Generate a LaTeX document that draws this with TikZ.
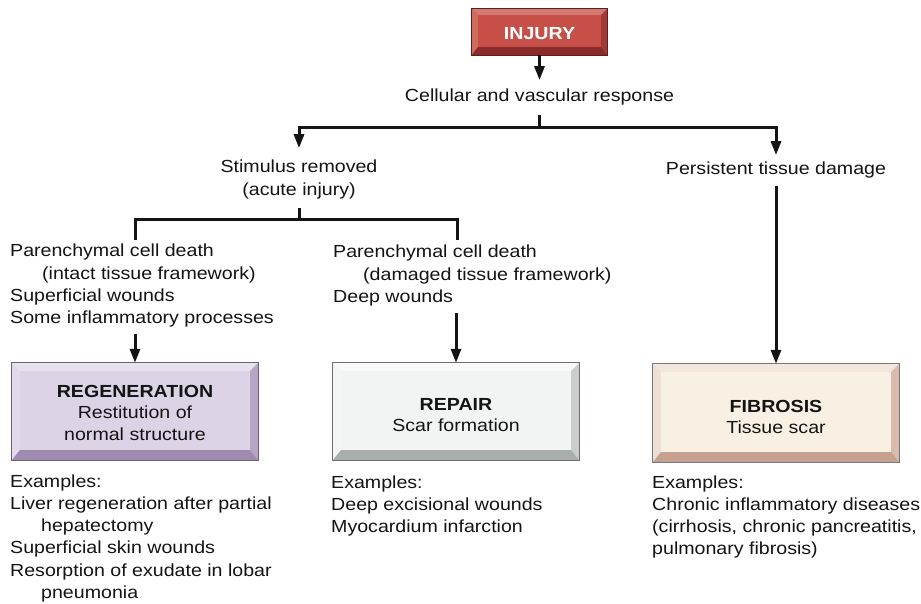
\documentclass[tikz,border=0pt]{standalone}
\usepackage{fontspec}
\setmainfont[FakeStretch=1.12]{Liberation Sans}
\usetikzlibrary{arrows.meta,calc}
\definecolor{ink}{HTML}{141414}
% injury
\definecolor{injF}{HTML}{C65048}
\definecolor{injT}{HTML}{D57A70}
\definecolor{injL}{HTML}{CF6A60}
\definecolor{injR}{HTML}{A23A38}
\definecolor{injB}{HTML}{8A2B2A}
\definecolor{injE}{HTML}{5A2020}
% regeneration
\definecolor{regF}{HTML}{DCD3E6}
\definecolor{regT}{HTML}{E8E2EE}
\definecolor{regL}{HTML}{E2DAEA}
\definecolor{regR}{HTML}{B6A5C4}
\definecolor{regB}{HTML}{9F8BAF}
\definecolor{regE}{HTML}{6B6470}
% repair
\definecolor{repF}{HTML}{F2F3F3}
\definecolor{repT}{HTML}{F8F9F9}
\definecolor{repL}{HTML}{F4F5F5}
\definecolor{repR}{HTML}{C9CDCC}
\definecolor{repB}{HTML}{A9AEAC}
\definecolor{repE}{HTML}{6E6E6E}
% fibrosis
\definecolor{fibF}{HTML}{F7F0E3}
\definecolor{fibT}{HTML}{F2E6DD}
\definecolor{fibL}{HTML}{EEDFD6}
\definecolor{fibR}{HTML}{D8BBAA}
\definecolor{fibB}{HTML}{C6A090}
\definecolor{fibE}{HTML}{777777}
\newcommand\ml[2]{\begin{tabular}[t]{@{}#1@{}}#2\end{tabular}}
\newcommand\bevels[8]{%
 \fill[#2] (#1.north west) -- (#1.north east) -- ($(#1.north east)+(-#7,#7)$) -- ($(#1.north west)+(#7,#7)$) -- cycle;
 \fill[#3] (#1.north west) -- ($(#1.north west)+(#7,#7)$) -- ($(#1.south west)+(#7,-#8)$) -- (#1.south west) -- cycle;
 \fill[#4] (#1.north east) -- ($(#1.north east)+(-#7,#7)$) -- ($(#1.south east)+(-#7,-#8)$) -- (#1.south east) -- cycle;
 \fill[#5] (#1.south west) -- ($(#1.south west)+(#7,-#8)$) -- ($(#1.south east)+(-#7,-#8)$) -- (#1.south east) -- cycle;
 \draw[#6, line width=1pt] (#1.north west) rectangle (#1.south east);
}
\tikzset{
 txt/.style={inner sep=0pt, text=ink, font=\fontsize{17.5}{22.3}\selectfont},
 boxtxt/.style={inner sep=0pt, text=ink, font=\fontsize{17.5}{21.5}\selectfont},
 ln/.style={line width=3pt, draw=ink},
 arr/.style={ln, -{Triangle[length=14pt,width=10pt]}},
 bx/.style={inner sep=0pt, draw=none, minimum width=246pt, minimum height=97pt},
}
\begin{document}
\begin{tikzpicture}[x=1pt,y=-1pt]
\useasboundingbox (0,0) rectangle (921,604);
\fill[white] (0,0) rectangle (921,604);

% boxes
\node[bx, fill=injF, minimum width=135pt, minimum height=46pt] (injury) at (539.5,32) {};
\bevels{injury}{injT}{injL}{injR}{injB}{injE}{6}{8}
\node[txt, anchor=base, text=white, font=\fontsize{17.5}{21}\selectfont\bfseries] (injuryT) at (539.5,39.5) {INJURY};

\node[bx, fill=regF] (regen) at (135,411.5) {};
\bevels{regen}{regT}{regL}{regR}{regB}{regE}{8}{10}
\node[boxtxt, anchor=base] (regenT) at (135,397) {\ml{c}{\textbf{REGENERATION}\\Restitution of\\normal structure}};

\node[bx, fill=repF] (repair) at (456,411.5) {};
\bevels{repair}{repT}{repL}{repR}{repB}{repE}{8}{10}
\node[boxtxt, anchor=base] (repairT) at (456,410) {\ml{c}{\textbf{REPAIR}\\Scar formation}};

\node[bx, fill=fibF, minimum height=98pt] (fib) at (776,413) {};
\bevels{fib}{fibT}{fibL}{fibR}{fibB}{fibE}{8}{10}
\node[boxtxt, anchor=base] (fibT) at (776,412) {\ml{c}{\textbf{FIBROSIS}\\Tissue scar}};

% texts
\node[txt, anchor=base] (cell) at (539.5,102) {Cellular and vascular response};
\node[txt, anchor=base] (stim) at (299,173) {\ml{c}{Stimulus removed\\(acute injury)}};
\node[txt, anchor=base] (pers) at (776,175) {Persistent tissue damage};
\node[txt, anchor=base west] (left) at (10,257) {\ml{l}{Parenchymal cell death\\\hspace*{32pt}(intact tissue framework)\\Superficial wounds\\Some inflammatory processes}};
\node[txt, anchor=base west] (mid) at (333,258) {\ml{l}{Parenchymal cell death\\\hspace*{30pt}(damaged tissue framework)\\Deep wounds}};
\node[txt, anchor=base west] (ex1) at (10,487) {\ml{l}{Examples:\\Liver regeneration after partial\\\hspace*{31pt}hepatectomy\\Superficial skin wounds\\Resorption of exudate in lobar\\\hspace*{31pt}pneumonia}};
\node[txt, anchor=base west] (ex2) at (331,488) {\ml{l}{Examples:\\Deep excisional wounds\\Myocardium infarction}};
\node[txt, anchor=base west] (ex3) at (652,488) {\ml{l}{Examples:\\Chronic inflammatory diseases\\(cirrhosis, chronic pancreatitis,\\pulmonary fibrosis)}};

% junctions
\coordinate (j1) at (539.5,128);
\coordinate (j2) at (299,220);
\coordinate (t1) at (135,240);
\coordinate (t2) at (457,240);

% connectors
\draw[arr, shorten >=9pt] (injury.south) -- (cell.north);
\draw[ln, shorten <=9pt] (cell.south) -- (j1);
\draw[arr, shorten >=9pt] (j1) -| (stim.north);
\draw[arr, shorten >=7pt] (j1) -| (pers.north);
\draw[ln, shorten <=6pt] (stim.south) -- (j2);
\draw[ln] (t1) |- (j2) -| (t2);
\draw[arr, shorten <=3pt] (regen.north |- left.south) -- (regen.north);
\draw[arr, shorten <=4pt] (repair.north |- mid.south) -- (repair.north);
\draw[arr, shorten <=7pt] (pers.south) -- (fib.north);
\end{tikzpicture}
\end{document}
